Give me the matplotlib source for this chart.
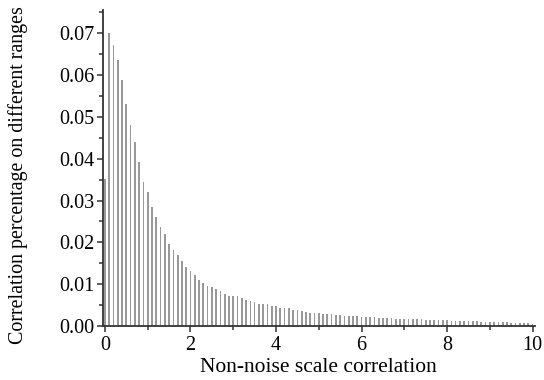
import numpy as np
import matplotlib
matplotlib.use("Agg")
import matplotlib.pyplot as plt
from matplotlib.ticker import MultipleLocator, FormatStrFormatter

# bar positions (non-noise scale correlation) and heights
x_start = 0.0
x_step = 0.1
values = [
    0.0351, 0.0700, 0.0671, 0.0635, 0.0589, 0.0531, 0.0481, 0.0439, 0.0393, 0.0345,
    0.0321, 0.0285, 0.0261, 0.0237, 0.0220, 0.0196, 0.0183, 0.0169, 0.0155, 0.0141,
    0.0131, 0.0121, 0.0111, 0.0103, 0.0096, 0.0093, 0.0089, 0.0083, 0.0077, 0.0073,
    0.0072, 0.0071, 0.0068, 0.0062, 0.0061, 0.0058, 0.0053, 0.0053, 0.0052, 0.0047,
    0.0047, 0.0043, 0.0042, 0.0042, 0.0039, 0.0039, 0.0036, 0.0034, 0.0031, 0.0031,
    0.0030, 0.0029, 0.0029, 0.0028, 0.0026, 0.0027, 0.0024, 0.0024, 0.0024, 0.0023,
    0.0022, 0.0021, 0.0022, 0.0021, 0.0020, 0.0019, 0.0019, 0.0019, 0.0018, 0.0018,
    0.0017, 0.0017, 0.0017, 0.0016, 0.0016, 0.0015, 0.0015, 0.0015, 0.0014, 0.0014,
    0.0014, 0.0013, 0.0013, 0.0012, 0.0012, 0.0011, 0.0011, 0.0011, 0.0010, 0.0010,
    0.0010, 0.0009, 0.0009, 0.0009, 0.0009, 0.0008, 0.0008, 0.0008, 0.0007, 0.0007,
    0.0006,
]
xs = x_start + x_step * np.arange(len(values))

xlabel = "Non-noise scale correlation"
ylabel = "Correlation percentage on different ranges"

plt.rcParams['font.family'] = ['Liberation Serif', 'DejaVu Serif']

fig = plt.figure(figsize=(5.44, 3.80), dpi=100)
ax = fig.add_axes([0.189, 0.142, 0.794, 0.832])

ax.bar(xs, values, width=0.04, color='#999999', edgecolor='none', align='center')

ax.set_xlim(-0.05, 10.05)
ax.set_ylim(0, 0.0756)

ax.spines['top'].set_visible(False)
ax.spines['right'].set_visible(False)
for s in ('left', 'bottom'):
    ax.spines[s].set_linewidth(1.3)
    ax.spines[s].set_color('#333333')

ax.xaxis.set_major_locator(MultipleLocator(2))
ax.xaxis.set_minor_locator(MultipleLocator(1))
ax.yaxis.set_major_locator(MultipleLocator(0.01))
ax.yaxis.set_minor_locator(MultipleLocator(0.005))
ax.yaxis.set_major_formatter(FormatStrFormatter('%.2f'))
ax.xaxis.set_major_formatter(FormatStrFormatter('%d'))

ax.tick_params(axis='both', which='major', length=4, width=1.1, color='#333333',
               labelsize=14.5, pad=2)
ax.tick_params(axis='x', which='major', pad=3)
ax.tick_params(axis='both', which='minor', length=3, width=1.1, color='#333333')

ax.set_xlabel(xlabel, fontsize=15.5, labelpad=2)
fig.text(18 / 544, 1 - 175 / 380, ylabel, rotation=90, fontsize=14.4,
         ha='center', va='center')

fig.savefig('out.png', dpi=100)
